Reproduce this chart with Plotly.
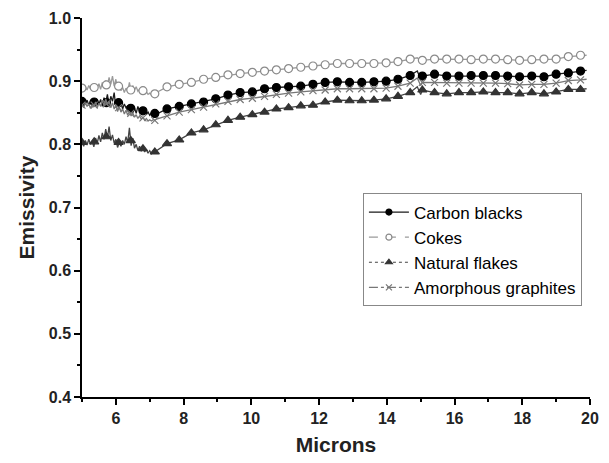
import plotly.graph_objects as go

# ---------------- data ----------------
# noisy region, 5.0-7.2 microns
wl_noisy = [5.00, 5.05, 5.10, 5.15, 5.20, 5.25, 5.30, 5.35, 5.40, 5.45, 5.50, 5.55, 5.60, 5.65, 5.70,
            5.75, 5.80, 5.85, 5.90, 5.95, 6.00, 6.05, 6.10, 6.15, 6.20, 6.25, 6.30, 6.35, 6.40, 6.45,
            6.50, 6.55, 6.60, 6.65, 6.70, 6.75, 6.80, 6.85, 6.90, 6.95, 7.00, 7.05, 7.10, 7.15, 7.20]
cb_noisy = [0.868, 0.872, 0.864, 0.870, 0.862, 0.869, 0.866, 0.873, 0.861, 0.868, 0.864, 0.871, 0.860, 0.874, 0.866,
            0.879, 0.862, 0.876, 0.868, 0.882, 0.858, 0.870, 0.863, 0.866, 0.856, 0.864, 0.858, 0.861, 0.852, 0.862,
            0.850, 0.858, 0.849, 0.860, 0.852, 0.856, 0.850, 0.854, 0.847, 0.851, 0.846, 0.850, 0.847, 0.849, 0.848]
ck_noisy = [0.889, 0.884, 0.891, 0.886, 0.893, 0.888, 0.890, 0.885, 0.894, 0.889, 0.896, 0.887, 0.898, 0.890, 0.901,
            0.893, 0.906, 0.895, 0.908, 0.892, 0.903, 0.887, 0.894, 0.885, 0.890, 0.882, 0.889, 0.884, 0.898, 0.883,
            0.893, 0.886, 0.891, 0.884, 0.887, 0.882, 0.885, 0.880, 0.883, 0.879, 0.881, 0.879, 0.880, 0.880, 0.882]
nf_noisy = [0.803, 0.797, 0.806, 0.799, 0.808, 0.800, 0.805, 0.796, 0.810, 0.802, 0.814, 0.804, 0.818, 0.808, 0.824,
            0.810, 0.828, 0.806, 0.815, 0.802, 0.808, 0.795, 0.803, 0.797, 0.806, 0.800, 0.812, 0.803, 0.826, 0.798,
            0.810, 0.794, 0.800, 0.790, 0.797, 0.789, 0.795, 0.788, 0.792, 0.786, 0.790, 0.785, 0.789, 0.787, 0.790]
ag_noisy = [0.862, 0.858, 0.866, 0.860, 0.864, 0.857, 0.863, 0.859, 0.867, 0.858, 0.865, 0.860, 0.870, 0.861, 0.872,
            0.862, 0.868, 0.858, 0.866, 0.856, 0.862, 0.852, 0.859, 0.851, 0.856, 0.848, 0.854, 0.846, 0.852, 0.845,
            0.850, 0.843, 0.847, 0.841, 0.845, 0.840, 0.843, 0.838, 0.841, 0.837, 0.839, 0.837, 0.839, 0.838, 0.840]

# marker positions
wl_mark = [5.00, 5.36, 5.72, 6.08, 6.44, 6.80, 7.15, 7.51, 7.87, 8.23, 8.59, 8.95, 9.31, 9.67,
           10.03, 10.39, 10.74, 11.10, 11.46, 11.82, 12.18, 12.54, 12.90, 13.26, 13.62, 13.98, 14.33, 14.69,
           15.05, 15.41, 15.77, 16.13, 16.49, 16.85, 17.21, 17.57, 17.92, 18.28, 18.64, 19.00, 19.36, 19.72]
cb_mark = [0.868, 0.867, 0.866, 0.866, 0.857, 0.853, 0.849, 0.856, 0.860, 0.864, 0.867, 0.872, 0.878, 0.882,
           0.883, 0.888, 0.890, 0.891, 0.892, 0.895, 0.898, 0.899, 0.898, 0.898, 0.899, 0.900, 0.903, 0.909,
           0.908, 0.911, 0.908, 0.908, 0.909, 0.909, 0.909, 0.908, 0.907, 0.908, 0.907, 0.911, 0.913, 0.916]
ck_mark = [0.889, 0.890, 0.894, 0.892, 0.886, 0.885, 0.880, 0.891, 0.895, 0.898, 0.903, 0.906, 0.910, 0.912,
           0.914, 0.916, 0.918, 0.920, 0.922, 0.924, 0.926, 0.928, 0.928, 0.928, 0.928, 0.929, 0.931, 0.935,
           0.933, 0.935, 0.935, 0.935, 0.934, 0.935, 0.935, 0.934, 0.933, 0.934, 0.935, 0.935, 0.939, 0.941]
nf_mark = [0.803, 0.804, 0.812, 0.803, 0.806, 0.793, 0.788, 0.801, 0.807, 0.818, 0.823, 0.831, 0.838, 0.843,
           0.847, 0.851, 0.856, 0.858, 0.861, 0.862, 0.867, 0.870, 0.869, 0.869, 0.870, 0.872, 0.876, 0.882,
           0.886, 0.882, 0.880, 0.882, 0.882, 0.883, 0.882, 0.882, 0.880, 0.882, 0.880, 0.883, 0.887, 0.887]
ag_mark = [0.862, 0.862, 0.864, 0.858, 0.849, 0.842, 0.838, 0.845, 0.851, 0.855, 0.859, 0.864, 0.868, 0.871,
           0.873, 0.876, 0.879, 0.881, 0.883, 0.885, 0.886, 0.888, 0.888, 0.888, 0.888, 0.889, 0.892, 0.897,
           0.898, 0.898, 0.897, 0.897, 0.897, 0.897, 0.897, 0.896, 0.894, 0.895, 0.895, 0.897, 0.901, 0.902]

# extra line points: 15-micron spike and line end
wl_extra = [14.90, 15.00, 19.90]
cb_extra = [0.916, 0.903, 0.917]
ck_extra = [0.937, 0.932, 0.941]
nf_extra = [0.891, 0.879, 0.888]
ag_extra = [0.905, 0.893, 0.903]

names = ["Carbon blacks", "Cokes", "Natural flakes", "Amorphous graphites"]

# ---------------- styles ----------------
FONT = "Liberation Sans, Arial, sans-serif"
styles = [
    dict(line="#1a1a1a", dash="solid", sym="circle", mcol="black", mline="black", msize=8),
    dict(line="#9a9a9a", dash="dash", sym="circle", mcol="white", mline="#8a8a8a", msize=8),
    dict(line="#444444", dash="dot", sym="triangle-up", mcol="#333333", mline="#333333", msize=8),
    dict(line="#777777", dash="dashdot", sym="x-thin", mcol="#777777", mline="#777777", msize=7),
]


def line_series(noisy, mark, extra):
    pts = list(zip(wl_noisy, noisy))
    pts += [(w, v) for w, v in zip(wl_mark, mark) if w > 7.2]
    pts += list(zip(wl_extra, extra))
    pts.sort()
    return [p[0] for p in pts], [p[1] for p in pts]


series = [(cb_noisy, cb_mark, cb_extra), (ck_noisy, ck_mark, ck_extra),
          (nf_noisy, nf_mark, nf_extra), (ag_noisy, ag_mark, ag_extra)]

fig = go.Figure()
for name, st, (noisy, mark, extra) in zip(names, styles, series):
    lx, ly = line_series(noisy, mark, extra)
    fig.add_trace(go.Scatter(x=lx, y=ly, mode="lines", showlegend=False,
                             line=dict(color=st["line"], width=1.3), hoverinfo="skip"))
    fig.add_trace(go.Scatter(x=wl_mark, y=mark, mode="markers", showlegend=False,
                             marker=dict(symbol=st["sym"], size=st["msize"], color=st["mcol"],
                                         line=dict(color=st["mline"], width=1.2))))

# legend entries
for name, st in zip(names, styles):
    fig.add_trace(go.Scatter(x=[None], y=[None], mode="lines+markers", name=name,
                             line=dict(color=st["line"], width=1.2, dash=st["dash"]),
                             marker=dict(symbol=st["sym"], size=6, color=st["mcol"],
                                         line=dict(color=st["mline"], width=1.2))))

axis_common = dict(showline=True, linecolor="black", linewidth=1.5, ticks="outside",
                   ticklen=6, tickwidth=1.5, tickcolor="black", showgrid=False, zeroline=False,
                   ticklabeloverflow="allow",
                   tickfont=dict(family=FONT, size=16, color="#222", weight="bold"))

fig.update_layout(
    width=609, height=463,
    margin=dict(l=82, r=10, t=16, b=65),
    paper_bgcolor="white", plot_bgcolor="white",
    font=dict(family=FONT, color="black"),
    xaxis=dict(range=[5, 20], tick0=0, dtick=2,
               minor=dict(dtick=1, ticks="outside", ticklen=3, tickwidth=1.5, tickcolor="black"),
               title=dict(text="Microns", font=dict(family=FONT, size=21, weight="bold", color="#222"),
                          standoff=11),
               **axis_common),
    yaxis=dict(range=[0.4, 1.0], tick0=0, dtick=0.1, tickformat=".1f",
               minor=dict(dtick=0.05, ticks="outside", ticklen=3, tickwidth=1.5, tickcolor="black"),
               title=dict(text="Emissivity", font=dict(family=FONT, size=21, weight="bold", color="#222"),
                          standoff=8),
               **axis_common),
    legend=dict(x=0.553, y=0.537, xanchor="left", yanchor="top",
                bgcolor="white", bordercolor="#888888", borderwidth=1,
                font=dict(family=FONT, size=17, color="black"),
                itemwidth=40, tracegroupgap=0),
    showlegend=True,
)

fig.write_html("out.html")
